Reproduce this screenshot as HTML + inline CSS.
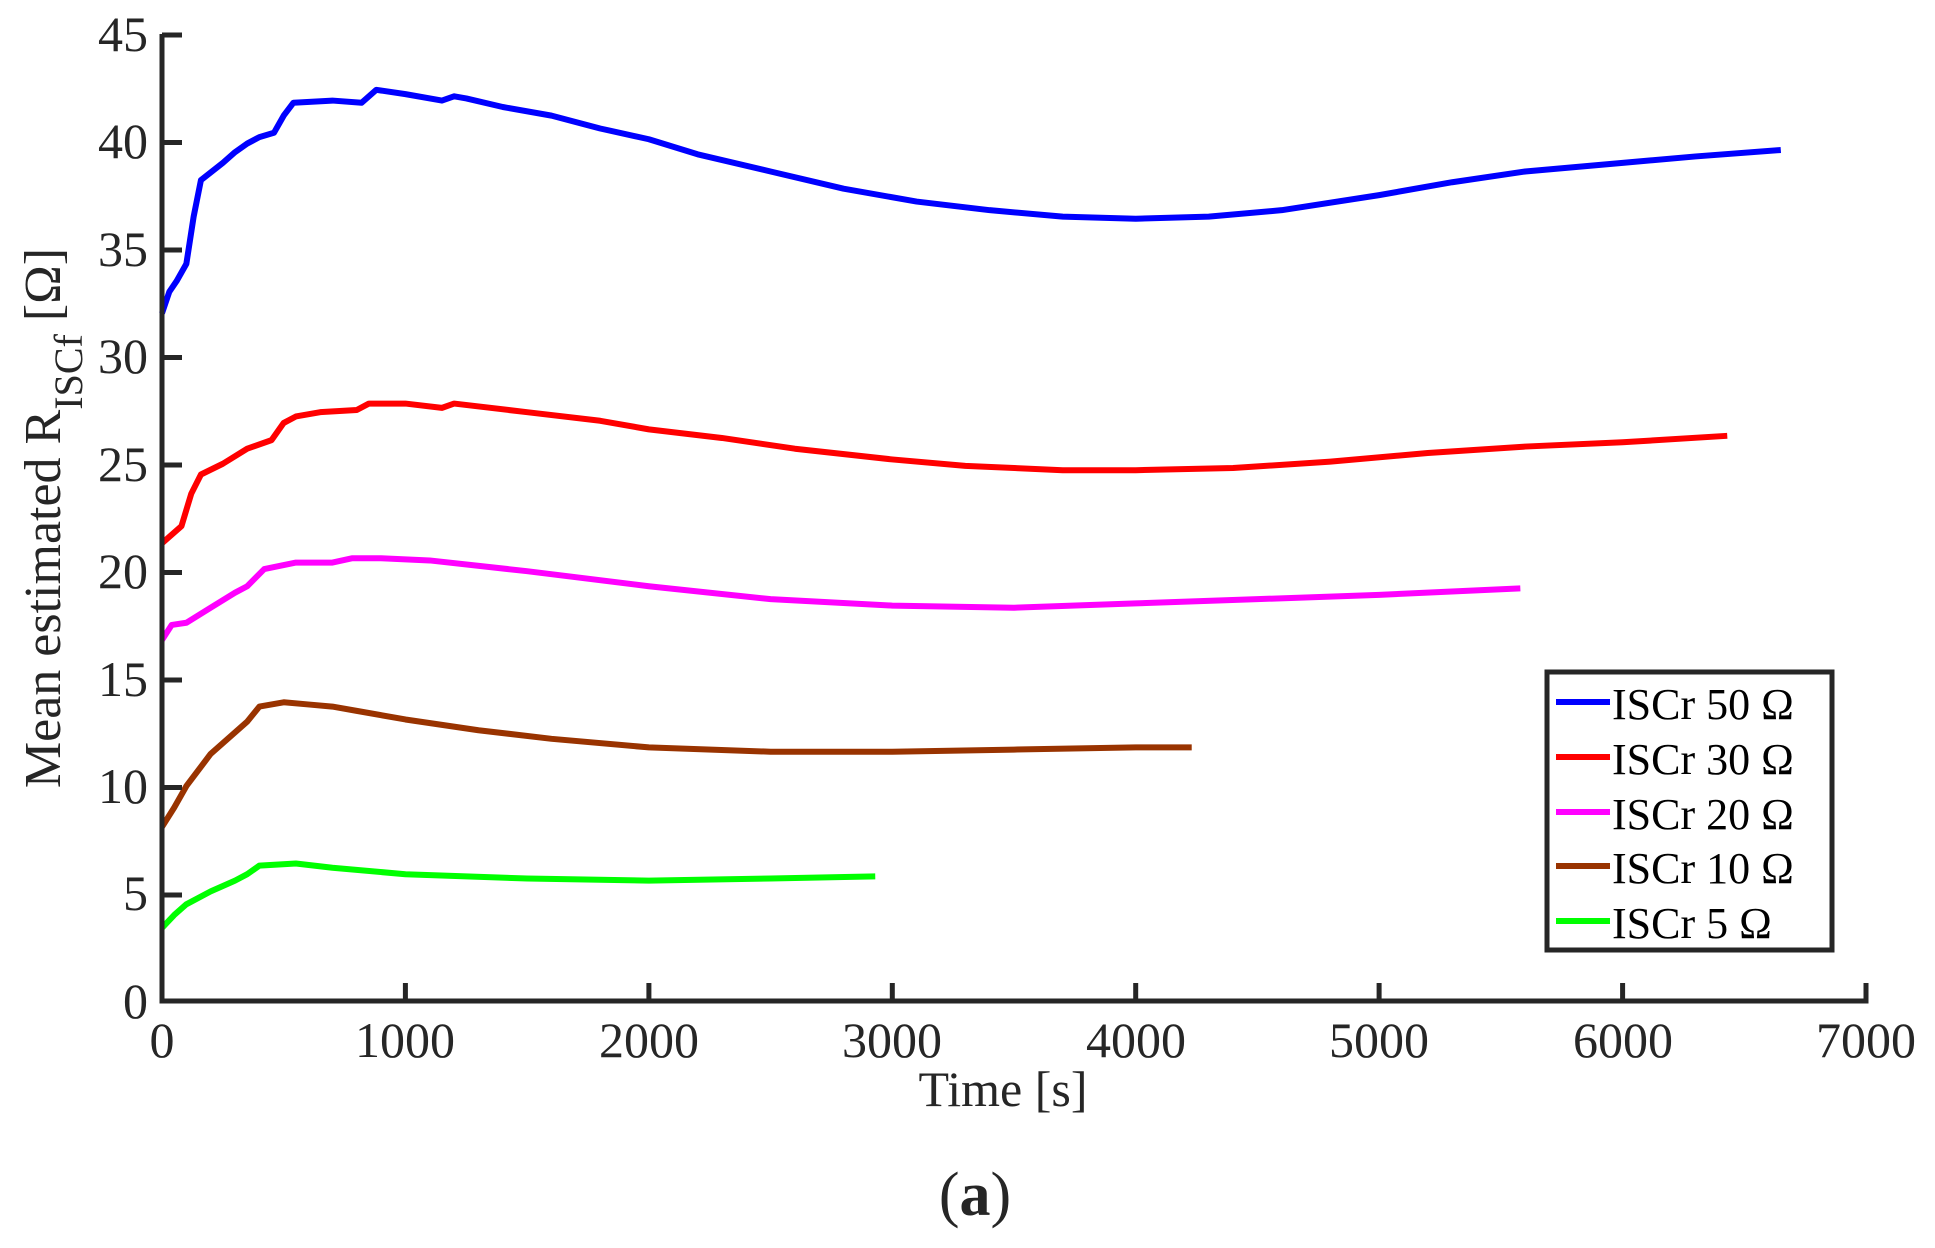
<!DOCTYPE html>
<html><head><meta charset="utf-8"><style>
html,body{margin:0;padding:0;background:#fff;}
svg{display:block;}
text{font-family:"Liberation Serif",serif;fill:#262626;}
</style></head><body>
<svg width="1935" height="1248" viewBox="0 0 1935 1248" xmlns="http://www.w3.org/2000/svg">
<g transform="translate(162,1001) scale(0.24343,-21.49)" fill="none" stroke-width="6" stroke-linejoin="round" stroke-linecap="butt">
<polyline vector-effect="non-scaling-stroke" stroke="#0000ff" points="0,32 30,33 60,33.5 100,34.3 130,36.5 160,38.2 250,39 300,39.5 350,39.9 400,40.2 460,40.4 500,41.2 540,41.8 700,41.9 820,41.8 880,42.4 1000,42.2 1150,41.9 1200,42.1 1250,42 1400,41.6 1600,41.2 1800,40.6 2000,40.1 2200,39.4 2500,38.6 2800,37.8 3100,37.2 3400,36.8 3700,36.5 4000,36.4 4300,36.5 4600,36.8 5000,37.5 5300,38.1 5600,38.6 6000,39 6300,39.3 6650,39.6"/>
<polyline vector-effect="non-scaling-stroke" stroke="#ff0000" points="0,21.3 80,22.1 120,23.6 160,24.5 250,25 350,25.7 450,26.1 500,26.9 550,27.2 650,27.4 800,27.5 850,27.8 1000,27.8 1150,27.6 1200,27.8 1500,27.4 1800,27 2000,26.6 2300,26.2 2600,25.7 3000,25.2 3300,24.9 3700,24.7 4000,24.7 4400,24.8 4800,25.1 5200,25.5 5600,25.8 6000,26 6430,26.3"/>
<polyline vector-effect="non-scaling-stroke" stroke="#ff00ff" points="0,16.8 40,17.5 100,17.6 200,18.3 300,19 350,19.3 420,20.1 550,20.4 700,20.4 780,20.6 900,20.6 1100,20.5 1500,20 2000,19.3 2500,18.7 3000,18.4 3500,18.3 4000,18.5 4500,18.7 5000,18.9 5580,19.2"/>
<polyline vector-effect="non-scaling-stroke" stroke="#993300" points="0,8.1 50,9 100,10 200,11.5 300,12.5 350,13 400,13.7 500,13.9 600,13.8 700,13.7 800,13.5 1000,13.1 1300,12.6 1600,12.2 2000,11.8 2500,11.6 3000,11.6 3500,11.7 4000,11.8 4230,11.8"/>
<polyline vector-effect="non-scaling-stroke" stroke="#00ff00" points="0,3.4 50,4 100,4.5 200,5.1 300,5.6 350,5.9 400,6.3 550,6.4 700,6.2 1000,5.9 1500,5.7 2000,5.6 2500,5.7 2930,5.8"/>
</g>
<g stroke="#262626" stroke-width="5" fill="none">
<path d="M162,34 V1001 H1866 V983"/>
<path d="M162,35 h20 M162,142.5 h20 M162,250 h20 M162,357.5 h20 M162,465 h20 M162,572.5 h20 M162,680 h20 M162,787.5 h20 M162,895 h20"/>
<path d="M405.4,1001 v-18 M648.9,1001 v-18 M892.3,1001 v-18 M1135.7,1001 v-18 M1379.1,1001 v-18 M1622.6,1001 v-18"/>
</g>
<g font-size="50" text-anchor="end">
<text x="148" y="1018">0</text><text x="148" y="910">5</text><text x="148" y="803">10</text><text x="148" y="696">15</text><text x="148" y="588">20</text><text x="148" y="481">25</text><text x="148" y="373">30</text><text x="148" y="266">35</text><text x="148" y="158">40</text><text x="148" y="51">45</text>
</g>
<g font-size="50" text-anchor="middle">
<text x="162" y="1057">0</text><text x="405" y="1057">1000</text><text x="649" y="1057">2000</text><text x="892" y="1057">3000</text><text x="1136" y="1057">4000</text><text x="1379" y="1057">5000</text><text x="1623" y="1057">6000</text><text x="1866" y="1057">7000</text>
<text x="1003" y="1106">Time [s]</text>
<text x="975" y="1215" font-size="62">(<tspan font-weight="bold">a</tspan>)</text>
</g>
<text transform="translate(60,518) rotate(-90)" text-anchor="middle" font-size="52">Mean estimated R<tspan font-size="40" dy="22">ISCf</tspan><tspan dy="-22"> [Ω]</tspan></text>
<rect x="1547" y="672" width="285" height="278" fill="#fff" stroke="#262626" stroke-width="5"/>
<g stroke-width="6">
<line x1="1556" x2="1610" y1="702" y2="702" stroke="#0000ff"/>
<line x1="1556" x2="1610" y1="757" y2="757" stroke="#ff0000"/>
<line x1="1556" x2="1610" y1="812" y2="812" stroke="#ff00ff"/>
<line x1="1556" x2="1610" y1="866" y2="866" stroke="#993300"/>
<line x1="1556" x2="1610" y1="921" y2="921" stroke="#00ff00"/>
</g>
<g font-size="44">
<text x="1612" y="719" style="fill:#000">ISCr 50 Ω</text>
<text x="1612" y="774" style="fill:#000">ISCr 30 Ω</text>
<text x="1612" y="829" style="fill:#000">ISCr 20 Ω</text>
<text x="1612" y="883" style="fill:#000">ISCr 10 Ω</text>
<text x="1612" y="938" style="fill:#000">ISCr 5 Ω</text>
</g>
</svg>
</body></html>
